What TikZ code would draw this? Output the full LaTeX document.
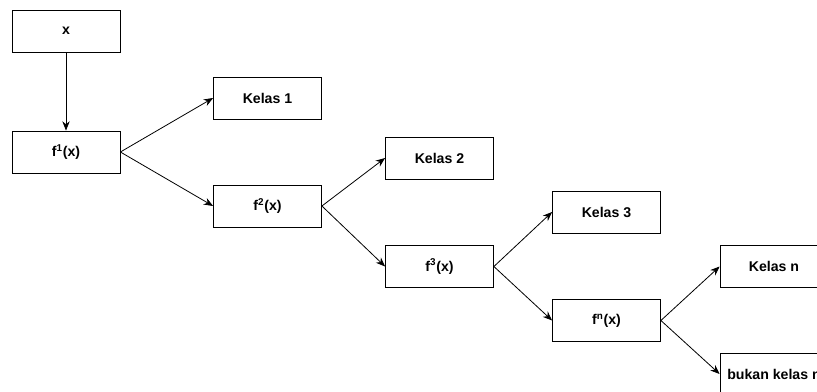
\documentclass[tikz,border=0pt]{standalone}
\usepackage{fontspec}
\setmainfont{Liberation Sans}
\usetikzlibrary{arrows.meta}

\tikzset{box/.style={draw,rectangle,minimum height=31.5pt,minimum width=81pt,inner sep=0pt,line width=0.6pt,font=\bfseries\fontsize{10.6}{12}\selectfont},
arr/.style={-{Stealth[length=7pt,width=5.5pt]},line width=0.6pt}}

\begin{document}
\begin{tikzpicture}[x=0.75pt,y=-0.75pt]
\useasboundingbox (0,0) rectangle (817,392);
\draw node [box](x) at (66,31){x};
\draw node [box](f1) at (66,152){f\textsuperscript{1}(x)};
\draw node [box](k1) at (267.5,98){Kelas 1};
\draw node [box](f2) at (267.5,206){f\textsuperscript{2}(x)};
\draw node [box](k2) at (439.5,158){Kelas 2};
\draw node [box](f3) at (439.5,266.5){f\textsuperscript{3}(x)};
\draw node [box](k3) at (606.5,212){Kelas 3};
\draw node [box](fn) at (606.5,320.5){f\textsuperscript{n}(x)};
\draw node [box](kn) at (774,266.5){Kelas n};
\draw node [box](bn) at (774,374){bukan kelas n};

\draw[arr] (x.south) -- (f1.north);
\draw[arr] (f1.east) -- (k1.west);
\draw[arr] (f1.east) -- (f2.west);
\draw[arr] (f2.east) -- (k2.west);
\draw[arr] (f2.east) -- (f3.west);
\draw[arr] (f3.east) -- (k3.west);
\draw[arr] (f3.east) -- (fn.west);
\draw[arr] (fn.east) -- (kn.west);
\draw[arr] (fn.east) -- (bn.west);
\end{tikzpicture}
\end{document}
